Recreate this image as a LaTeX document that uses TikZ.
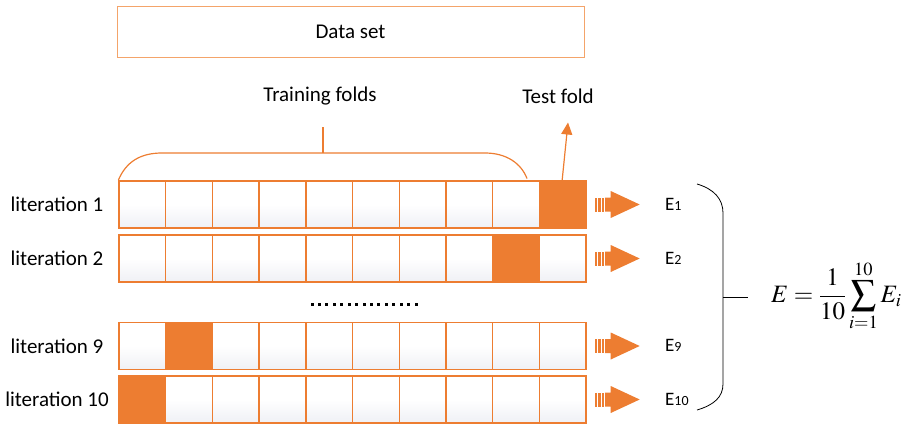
\documentclass[tikz,border=0pt]{standalone}
\usepackage{mathptmx}
\usepackage{fontspec}
\setmainfont{Carlito}
\usetikzlibrary{calc,arrows.meta}
\definecolor{foldorange}{HTML}{ED7D31}
\definecolor{boxedge}{HTML}{F4A46A}
\definecolor{cellshade}{HTML}{EFF0F5}

\tikzset{
  fatarrow/.pic={
    \fill[foldorange] (0,-7) rectangle (2.4,7);
    \fill[foldorange] (3.4,-7) rectangle (5.8,7);
    \fill[foldorange] (6.8,-7) rectangle (9.4,7);
    \fill[foldorange] (10.4,-7) -- (16,-7) -- (16,-13.5) -- (45,0)
      -- (16,13.5) -- (16,7) -- (10.4,7) -- cycle;
  }
}

\begin{document}
\begin{tikzpicture}[x=1pt,y=-1pt,
  cellbase/.style={draw=foldorange, line width=1.4pt, minimum width=46.7pt,
    minimum height=47pt, inner sep=0pt},
  cell/.style={cellbase, top color=white, bottom color=cellshade, middle color=white},
  testcell/.style={cellbase, fill=foldorange},
  txt/.style={font=\fontsize{21}{25}\selectfont, inner sep=0pt},
  elabel/.style={font=\fontsize{19}{22}\selectfont, anchor=base west, inner sep=0pt},
  bracket/.style={draw=foldorange, line width=1.2pt},
  bigbrace/.style={draw=black, line width=0.8pt},
]
\useasboundingbox (0,0) rectangle (914,426);

% whole data set
\node[draw=boxedge, line width=1pt, minimum width=467pt, minimum height=51pt,
  font=\fontsize{21}{25}\selectfont] (data) at (350.5,31.5) {Data set};

% folds for each iteration
\foreach \r/\y/\tc in {1/204.5/10, 2/258.5/9, 9/346/2, 10/399.5/1} {
  \foreach \c in {1,...,10} {
    \ifnum\c=\tc \def\sty{testcell}\else\def\sty{cell}\fi
    \node[\sty] (r\r c\c) at ({119+46.7*(\c-0.5)},\y) {};
  }
  \node[txt] (lab\r) at (57,\y) {literation \r};
  \pic at ($(r\r c10.east)+(8,0)$) {fatarrow};
  \node[elabel] (e\r) at (665,\y+5.5) {E{\fontsize{14}{16}\selectfont\r}};
}

% omitted iterations
\foreach \k in {0,...,14}
  \fill ({312+7.43*\k-1.5},302.5) rectangle ++(3,3);

% training folds bracket
\node[txt] (train) at (320,96) {Training folds};
\coordinate (brtop) at (323,153);
\draw[bracket] (r1c1.north west) .. controls (126,162) and (140,153) .. (162,153)
  -- (brtop) -- (485,153) .. controls (506,153) and (521,163) .. (527,178.5);
\draw[bracket] (brtop) -- (323,126.5);

% test fold pointer
\node[txt] (test) at (558,96) {Test fold};
\coordinate (testtip) at (568,122.5);
\draw[bracket, -{Triangle[length=12pt,width=11pt]}] ($(r1c10.north)+(-0.5,0)$) -- (testtip);

% averaging brace and formula
\coordinate (bmid) at (723,297);
\draw[bigbrace] (697,184) .. controls (714,189) and (723,199) .. (723,213)
  -- (bmid) -- (723,384) .. controls (723,397) and (714,405) .. (697,410);
\node[font=\fontsize{25}{30}\selectfont, anchor=west, inner sep=0pt] (formula) at (771,296)
  {$\displaystyle E=\frac{1}{10}\sum_{i=1}^{10}E_i$};
\draw[bigbrace] (bmid) -- (748,297);
\end{tikzpicture}
\end{document}
